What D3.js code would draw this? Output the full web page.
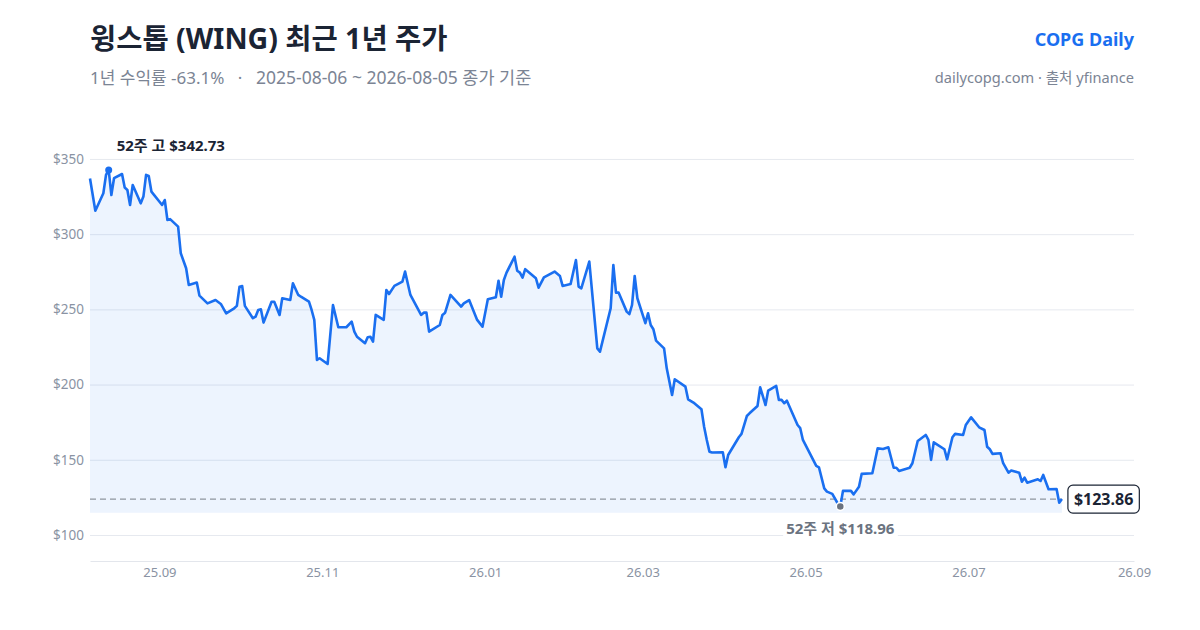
<!DOCTYPE html>
<html>
<head>
<meta charset="utf-8">
<script src="https://cdn.jsdelivr.net/npm/d3@7"></script>
<style>
  html, body { margin: 0; padding: 0; background: #fff; }
  body { width: 1200px; height: 630px; overflow: hidden; }
  text { font-family: "Noto Sans", "Noto Sans CJK KR", sans-serif; }
</style>
</head>
<body>
<svg id="chart" width="1200" height="630"></svg>
<script>
// closing prices (date, close)
const dates = [
  '2025-08-06','2025-08-08','2025-08-11','2025-08-12','2025-08-13','2025-08-14','2025-08-15','2025-08-18',
  '2025-08-19','2025-08-20','2025-08-21','2025-08-22','2025-08-25','2025-08-26','2025-08-27','2025-08-28',
  '2025-08-29','2025-09-02','2025-09-03','2025-09-04','2025-09-05','2025-09-08','2025-09-09','2025-09-11',
  '2025-09-12','2025-09-15','2025-09-16','2025-09-19','2025-09-22','2025-09-24','2025-09-26','2025-09-29',
  '2025-09-30','2025-10-01','2025-10-02','2025-10-03','2025-10-06','2025-10-07','2025-10-08','2025-10-09',
  '2025-10-10','2025-10-13','2025-10-14','2025-10-16','2025-10-17','2025-10-20','2025-10-21','2025-10-23',
  '2025-10-24','2025-10-27','2025-10-28','2025-10-29','2025-10-30','2025-10-31','2025-11-03','2025-11-05',
  '2025-11-07','2025-11-10','2025-11-12','2025-11-13','2025-11-14','2025-11-17','2025-11-18','2025-11-19',
  '2025-11-20','2025-11-21','2025-11-24','2025-11-25','2025-11-26','2025-11-28','2025-12-01','2025-12-02',
  '2025-12-04','2025-12-08','2025-12-09','2025-12-10','2025-12-11','2025-12-15','2025-12-16','2025-12-17',
  '2025-12-19','2025-12-23','2025-12-24','2025-12-26','2025-12-29','2025-12-31','2026-01-02','2026-01-05',
  '2026-01-06','2026-01-07','2026-01-08','2026-01-09','2026-01-12','2026-01-13','2026-01-14','2026-01-15',
  '2026-01-16','2026-01-20','2026-01-21','2026-01-23','2026-01-27','2026-01-29','2026-01-30','2026-02-02',
  '2026-02-04','2026-02-05','2026-02-06','2026-02-09','2026-02-12','2026-02-13','2026-02-17','2026-02-18',
  '2026-02-19','2026-02-20','2026-02-23','2026-02-24','2026-02-25','2026-02-26','2026-02-27','2026-03-02',
  '2026-03-03','2026-03-04','2026-03-05','2026-03-06','2026-03-09','2026-03-10','2026-03-12','2026-03-13',
  '2026-03-17','2026-03-18','2026-03-20','2026-03-23','2026-03-24','2026-03-25','2026-03-26','2026-03-27',
  '2026-03-31','2026-04-01','2026-04-02','2026-04-06','2026-04-07','2026-04-09','2026-04-10','2026-04-13',
  '2026-04-14','2026-04-16','2026-04-17','2026-04-20','2026-04-21','2026-04-22','2026-04-23','2026-04-24',
  '2026-04-28','2026-04-29','2026-04-30','2026-05-05','2026-05-06','2026-05-08','2026-05-09','2026-05-11',
  '2026-05-13','2026-05-14','2026-05-15','2026-05-18','2026-05-19','2026-05-21','2026-05-22','2026-05-26',
  '2026-05-28','2026-05-30','2026-06-01','2026-06-03','2026-06-04','2026-06-05','2026-06-09','2026-06-10',
  '2026-06-12','2026-06-15','2026-06-16','2026-06-17','2026-06-18','2026-06-22','2026-06-23','2026-06-25',
  '2026-06-26','2026-06-29','2026-06-30','2026-07-02','2026-07-05','2026-07-07','2026-07-08','2026-07-09',
  '2026-07-10','2026-07-13','2026-07-14','2026-07-16','2026-07-17','2026-07-20','2026-07-21','2026-07-22',
  '2026-07-23','2026-07-27','2026-07-28','2026-07-29','2026-07-31','2026-08-03','2026-08-04','2026-08-05'
];
const closes = [
  337.0, 315.6, 327.2, 339.4, 342.73, 326.0, 337.2, 340.0,
  331.0, 329.4, 319.4, 332.7, 320.5, 325.0, 339.4, 338.7,
  328.3, 319.4, 322.7, 309.4, 310.0, 305.0, 287.3, 277.3,
  266.2, 267.8, 259.1, 254.0, 256.2, 253.6, 247.4, 250.7,
  252.3, 265.1, 265.5, 252.3, 244.1, 245.1, 249.6, 250.0,
  241.2, 255.1, 255.1, 246.3, 257.4, 256.2, 267.4, 259.6,
  258.4, 255.1, 249.6, 243.0, 216.4, 217.5, 213.7, 252.9,
  238.1, 238.1, 241.8, 235.2, 231.8, 227.5, 231.5, 231.8,
  228.5, 246.3, 243.0, 262.9, 260.2, 265.6, 268.4, 275.1,
  259.6, 246.3, 247.8, 247.8, 235.2, 239.6, 246.3, 247.8,
  259.6, 251.8, 254.0, 256.2, 243.0, 238.5, 256.7, 258.0,
  269.0, 258.4, 269.5, 274.4, 285.0, 275.7, 274.4, 271.1,
  276.7, 270.7, 264.4, 271.3, 275.1, 272.2, 265.6, 266.9,
  282.8, 265.1, 264.0, 281.8, 224.1, 221.9, 250.7, 279.5,
  261.1, 261.1, 248.5, 246.9, 252.9, 272.2, 257.4, 240.8,
  247.4, 239.6, 236.8, 229.2, 224.1, 210.8, 193.1, 203.5,
  198.6, 190.2, 188.0, 183.6, 172.0, 163.2, 155.4, 154.8,
  155.0, 145.0, 153.2, 165.0, 167.2, 179.1, 180.9, 185.8,
  198.2, 186.4, 196.0, 199.1, 189.8, 189.8, 187.6, 189.3,
  173.1, 171.0, 163.2, 145.9, 145.0, 131.0, 128.8, 127.3,
  121.1, 118.96, 129.3, 129.3, 127.0, 132.1, 140.6, 141.0,
  157.6, 157.2, 158.3, 144.7, 144.7, 142.6, 144.7, 147.7,
  162.5, 166.5, 163.2, 149.9, 161.6, 157.0, 150.3, 165.0,
  167.2, 166.5, 173.1, 178.2, 171.6, 169.8, 158.7, 157.0,
  153.9, 154.3, 147.7, 141.4, 142.8, 141.4, 135.4, 138.1,
  134.8, 137.0, 135.9, 139.9, 130.4, 130.6, 121.5, 123.86
];
const yTicks = [100, 150, 200, 250, 300, 350];
const xTicks = ['2025-09-01','2025-11-01','2026-01-01','2026-03-01','2026-05-01','2026-07-01','2026-09-01'];
const xDomain = ['2025-08-06', '2026-09-01'];
const yDomain = [82.7, 362.6];

const parse = d3.timeParse('%Y-%m-%d');
const data = dates.map((d, i) => ({ date: parse(d), close: closes[i] }));

const margin = { top: 140, right: 66, bottom: 69, left: 90 };
const width = 1200, height = 630;

const svg = d3.select('#chart');

const x = d3.scaleTime()
  .domain(xDomain.map(parse))
  .range([margin.left, width - margin.right]);

const y = d3.scaleLinear()
  .domain(yDomain)
  .range([height - margin.bottom, margin.top]);

// header
svg.append('text')
  .attr('x', 90).attr('y', 49)
  .attr('font-size', 28.5).attr('font-weight', 700).attr('fill', '#1b2434')
  .text('윙스톱 (WING) 최근 1년 주가');
const sub = svg.append('text')
  .attr('y', 83.5).attr('font-size', 17).attr('fill', '#7b8494');
sub.append('tspan').attr('x', 90).text('1년 수익률 -63.1%');
sub.append('tspan').attr('x', 240).attr('text-anchor', 'middle').text('·');
sub.append('tspan').attr('x', 256).attr('font-size', 17.5).text('2025-08-06 ~ 2026-08-05 종가 기준');
svg.append('text')
  .attr('x', 1134).attr('y', 46).attr('text-anchor', 'end')
  .attr('font-size', 18).attr('font-weight', 700).attr('fill', '#1a6ff0')
  .text('COPG Daily');
svg.append('text')
  .attr('x', 1134).attr('y', 83).attr('text-anchor', 'end')
  .attr('font-size', 14.6).attr('fill', '#7b8494')
  .text('dailycopg.com · 출처 yfinance');

// grid + y labels
const yAxis = svg.append('g')
  .attr('transform', `translate(${margin.left},0)`)
  .call(d3.axisLeft(y).tickValues(yTicks)
    .tickSize(-(width - margin.left - margin.right))
    .tickFormat(d => '$' + d));
yAxis.select('.domain').remove();
yAxis.selectAll('.tick line').attr('stroke', '#e6e9ef');
yAxis.selectAll('.tick text')
  .attr('x', -6).attr('fill', '#8a93a3').attr('font-size', 13.5)
  .attr('font-family', '"Noto Sans", sans-serif');

// x axis
const xAxis = svg.append('g')
  .attr('transform', `translate(0,${height - margin.bottom})`)
  .call(d3.axisBottom(x).tickValues(xTicks.map(parse))
    .tickSize(0).tickFormat(d3.timeFormat('%y.%m')));
xAxis.select('.domain').attr('stroke', '#e3e6ec');
xAxis.selectAll('.tick text')
  .attr('dy', 0).attr('y', 16).attr('fill', '#8a93a3').attr('font-size', 13)
  .attr('font-family', '"Noto Sans", sans-serif');

// area + line
const low = d3.least(data, d => d.close);
const high = d3.greatest(data, d => d.close);
const last = data[data.length - 1];
const areaBase = low.close * 0.965;

svg.append('path')
  .datum(data)
  .attr('fill', '#1a6ff0').attr('fill-opacity', 0.08)
  .attr('d', d3.area().x(d => x(d.date)).y0(y(areaBase)).y1(d => y(d.close)));

svg.append('line')
  .attr('x1', margin.left).attr('x2', x(last.date))
  .attr('y1', y(last.close)).attr('y2', y(last.close))
  .attr('stroke', '#8f959e').attr('stroke-width', 1.2)
  .attr('stroke-dasharray', '6,4');

svg.append('path')
  .datum(data)
  .attr('fill', 'none').attr('stroke', '#1a6ff0').attr('stroke-width', 2.6)
  .attr('stroke-linejoin', 'round')
  .attr('d', d3.line().x(d => x(d.date)).y(d => y(d.close)));

// 52-week high
svg.append('circle')
  .attr('cx', x(high.date)).attr('cy', y(high.close)).attr('r', 3.5)
  .attr('fill', '#1a6ff0');
svg.append('text')
  .attr('x', x(high.date) + 8).attr('y', y(high.close) - 19)
  .attr('font-size', 15).attr('font-weight', 700).attr('fill', '#1b2434')
  .text('52주 고 $' + high.close.toFixed(2));

// 52-week low
const lowLabel = svg.append('g');
const lowText = lowLabel.append('text')
  .attr('x', x(low.date)).attr('y', y(low.close) + 28)
  .attr('text-anchor', 'middle')
  .attr('font-size', 15).attr('font-weight', 700).attr('fill', '#6b7380')
  .text('52주 저 $' + low.close.toFixed(2));
const lb = lowText.node().getBBox();
lowLabel.insert('rect', 'text')
  .attr('x', lb.x - 3).attr('y', lb.y).attr('width', lb.width + 6).attr('height', lb.height)
  .attr('fill', '#fff');
svg.append('circle')
  .attr('cx', x(low.date)).attr('cy', y(low.close)).attr('r', 4)
  .attr('fill', '#6b7380').attr('stroke', '#fff').attr('stroke-width', 1.5);

// last price tag
const tag = svg.append('g');
const tagText = tag.append('text')
  .attr('x', x(last.date) + 12).attr('y', y(last.close) + 5.5)
  .attr('font-size', 16).attr('font-weight', 700).attr('fill', '#1b2434')
  .text('$' + last.close.toFixed(2));
const tb = tagText.node().getBBox();
tag.insert('rect', 'text')
  .attr('x', tb.x - 6).attr('y', y(last.close) - 14)
  .attr('width', tb.width + 12).attr('height', 28)
  .attr('rx', 5)
  .attr('fill', '#fff').attr('stroke', '#1b2434').attr('stroke-width', 1.2);
</script>
</body>
</html>
